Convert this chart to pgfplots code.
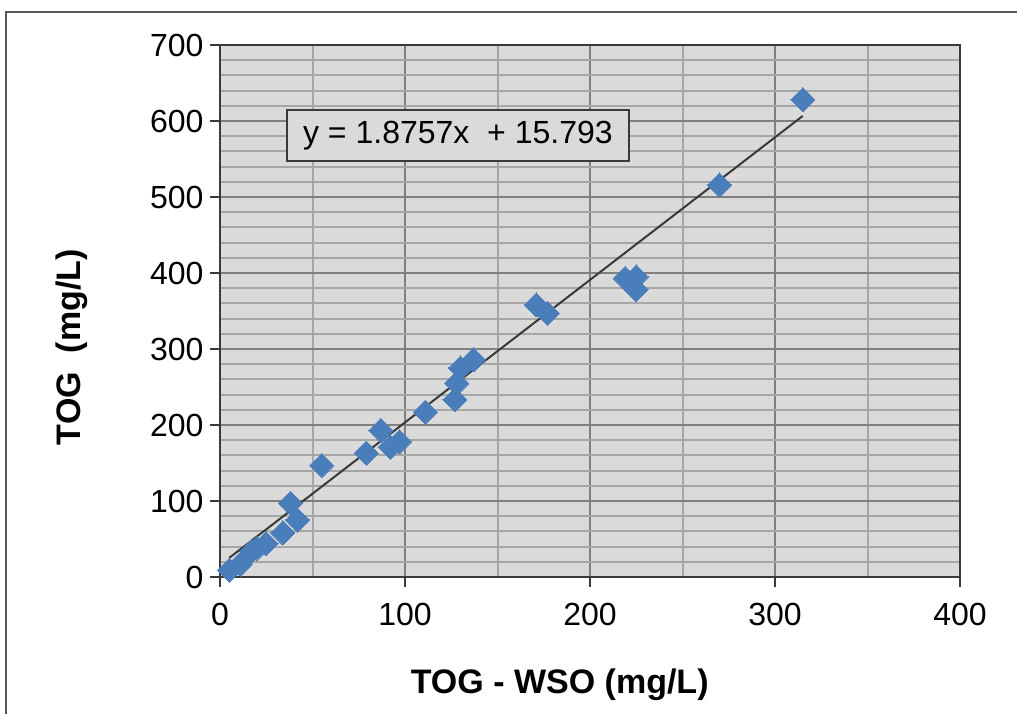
\documentclass[border=0pt]{standalone}
\usepackage{pgfplots}
\pgfplotsset{compat=1.18}
\usepackage{fontspec}
\setmainfont{Liberation Sans}
\definecolor{bgc}{HTML}{DADADA}
\definecolor{majc}{HTML}{808080}
\definecolor{minc}{HTML}{A6A6A6}
\definecolor{axc}{HTML}{3A3A3A}
\definecolor{ptc}{HTML}{4A7EBB}
\begin{document}
\begin{tikzpicture}[x=1pt,y=1pt]
\useasboundingbox (0,0) rectangle (1017,714);
\draw[line width=2pt, color=axc!85] (6,0) -- (6,702) -- (1017,702);
\begin{axis}[
  at={(220pt,137pt)}, anchor=south west,
  scale only axis, width=740pt, height=532pt,
  xmin=0, xmax=400, ymin=0, ymax=700,
  xtick={0,100,200,300,400},
  ytick={0,100,200,300,400,500,600,700},
  minor xtick={50,150,250,350},
  minor ytick={20,40,60,80,120,140,160,180,220,240,260,280,320,340,360,380,420,440,460,480,520,540,560,580,620,640,660,680},
  grid=both,
  major grid style={line width=2.2pt, color=majc},
  minor grid style={line width=2pt, color=minc},
  axis background/.style={fill=bgc},
  tick align=outside, tick pos=left,
  major tick length=10pt, minor tick length=0pt,
  major tick style={line width=2pt, color=axc},
  axis line style={line width=2.5pt, color=axc},
  /pgf/number format/assume math mode=true,
  ticklabel style={font=\fontsize{32}{36}\selectfont},
  xticklabel shift=13pt,
  yticklabel shift=3pt,
  xlabel={TOG - WSO (mg/L)},
  ylabel={TOG\ \ (mg/L)},
  label style={font=\bfseries\fontsize{34}{40}\selectfont},
  xlabel style={at={(axis description cs:0.459,-0.203)}, anchor=center},
  ylabel style={at={(axis description cs:-0.2,0.432)}, anchor=center},
]
\addplot[only marks, color=ptc, mark=square*, mark size=8.5pt, mark options={rotate=45, draw=ptc, fill=ptc, line width=0pt}]
coordinates {
(315,628) (270,516) (219,393) (225,395) (225,378)
(171,358) (177,347) (137,286) (130,275) (128,255) (127,233)
(111,217) (97,178) (92,171) (87,193) (79,163) (55,147)
(38,97) (42,75) (34,58) (20,38) (25,44) (17,34) (5,9) (11,17)
};
\addplot[no marks, line width=2pt, color=axc] coordinates {(5,25.17) (315,606.64)};
\node[draw=axc, line width=2pt, fill=bgc, minimum width=342pt, minimum height=51pt, inner sep=0pt,
  font=\fontsize{32}{36}\selectfont] at (axis cs:128.6,581) {y = 1.8757x\ \ + 15.793};
\end{axis}
\end{tikzpicture}
\end{document}
